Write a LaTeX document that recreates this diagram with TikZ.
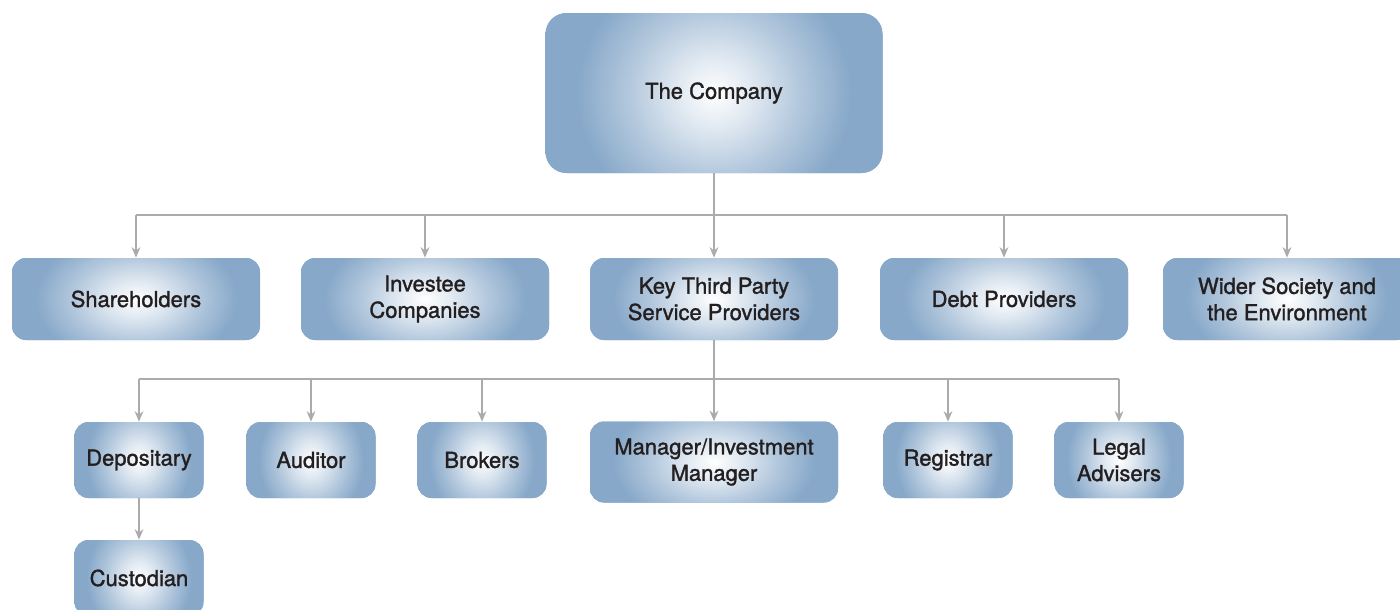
\documentclass[tikz,border=0pt]{standalone}
\usepackage{fontspec}
\setmainfont{TeX Gyre Heros}
\newfontfamily\boxfont{TeX Gyre Heros}[BoldFont={TeX Gyre Heros}, BoldFeatures={FakeBold=1.4}]
\usetikzlibrary{arrows.meta, calc}

\definecolor{boxblue}{HTML}{87A8C9}
\definecolor{linegray}{HTML}{ABABAB}
\definecolor{textdark}{HTML}{231F20}

\pgfdeclareradialshading{boxglow}{\pgfpoint{0bp}{0bp}}{%
  color(0bp)=(white); color(3bp)=(white!72!boxblue); color(6.5bp)=(white!35!boxblue);
  color(10.2bp)=(boxblue); color(50bp)=(boxblue)}

\tikzset{
  unit/.style = {fill=boxblue, rounded corners=8pt, text=textdark,
                 align=center, font=\boxfont\bfseries\fontsize{12.5}{15}\selectfont, inner sep=0pt,
                 path picture={
                   \shade[shading=boxglow]
                     let \p1=(path picture bounding box.south west),
                         \p2=(path picture bounding box.north east) in
                     ({1.5*\x1-0.5*\x2},{2.5*\y1-1.5*\y2}) rectangle
                     ({1.5*\x2-0.5*\x1},{2.5*\y2-1.5*\y1});
                 }},
  wide/.style = {unit, minimum width=248*0.02cm, minimum height=82*0.02cm},
  small/.style = {unit, minimum width=129*0.02cm, minimum height=76*0.02cm},
  link/.style = {draw=linegray, line width=0.8pt},
  arr/.style = {link, -{Stealth[length=6pt, width=5pt]}}
}

\begin{document}
\begin{tikzpicture}[x=0.02cm, y=-0.02cm]
  \useasboundingbox (0,0) rectangle (1400,609);
  \clip (0,0) rectangle (1400,609);

  % top
  \node[unit, rounded corners=12pt, minimum width=337*0.02cm, minimum height=160*0.02cm]
    (company) at (714,93) {The Company};

  % second row
  \node[wide] (share) at (136,299) {Shareholders};
  \node[wide] (investee) at (425,299) {Investee\\Companies};
  \node[wide] (key) at (714,299) {Key Third Party\\Service Providers};
  \node[wide] (debt) at (1004,299) {Debt Providers};
  \node[wide] (wider) at (1287,299) {Wider Society and\\the Environment};

  % third row
  \node[small] (depo) at (139,460) {Depositary};
  \node[small] (audit) at (311,460) {Auditor};
  \node[small] (broker) at (482,460) {Brokers};
  \node[wide, minimum height=81*0.02cm] (manager) at (714,462) {Manager/Investment\\Manager};
  \node[small] (regis) at (948,460) {Registrar};
  \node[small] (legal) at (1119,460) {Legal\\Advisers};
  \node[small] (custod) at (139,578) {Custodian};

  % busses
  \coordinate (busA) at (0,215);
  \coordinate (busB) at (0,379);

  \draw[link] (share.north |- busA) -- (wider.north |- busA);
  \draw[arr] (company) -- (key);
  \foreach \n in {share, investee, debt, wider}
  {
    \draw[arr] (\n.north |- busA) -- (\n.north);
  }

  \draw[link] (depo.north |- busB) -- (legal.north |- busB);
  \draw[arr] (key) -- (manager);
  \foreach \n in {depo, audit, broker, regis, legal}
  {
    \draw[arr] (\n.north |- busB) -- (\n.north);
  }

  \draw[arr] (depo) -- (custod);
\end{tikzpicture}
\end{document}
